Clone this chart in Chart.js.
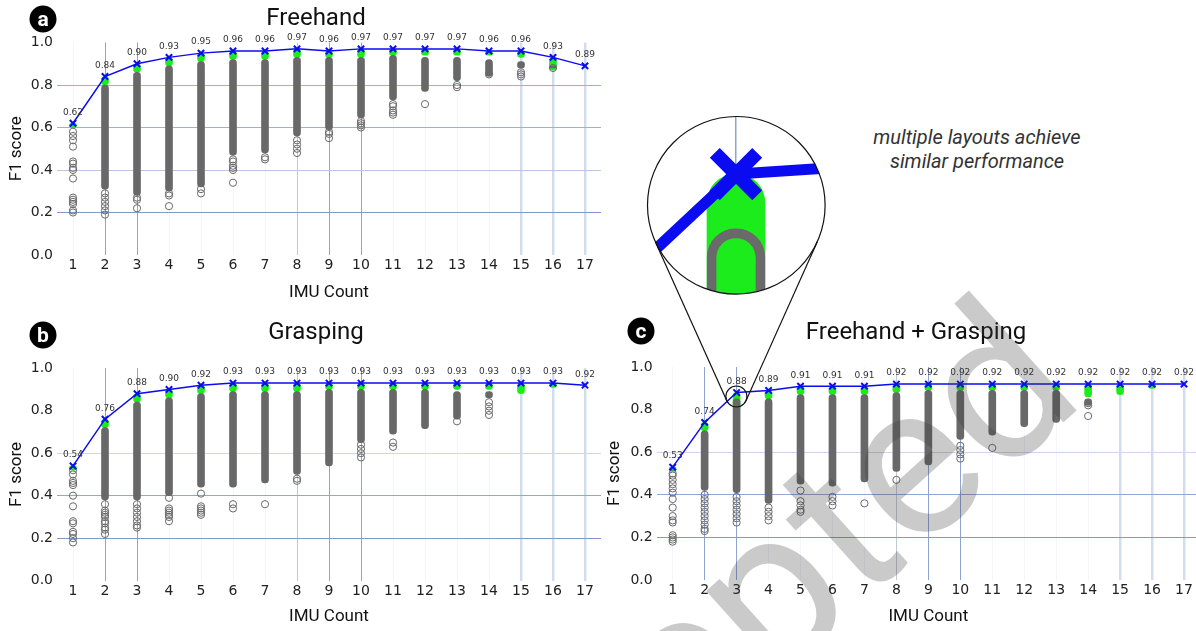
<!DOCTYPE html>
<html>
<head>
<meta charset="utf-8">
<script src="https://cdn.jsdelivr.net/npm/chart.js@4.4.1/dist/chart.umd.min.js"></script>
<style>
  html, body { margin: 0; padding: 0; background: #fff; }
  body { width: 1196px; height: 631px; overflow: hidden; position: relative; }
  canvas { position: absolute; }
  .title { position: absolute; font-family: Roboto, sans-serif; font-size: 24px; color: #111; transform: translate(-50%, -50%); white-space: nowrap; }
  .badge { position: absolute; width: 27px; height: 27px; border-radius: 50%; background: #000; color: #fff;
           font: bold 21px Roboto, sans-serif; text-align: center; line-height: 26px; transform: translate(-50%, -50%); }
  #note { position: absolute; left: 857px; top: 125px; width: 240px; text-align: center; font: italic 20px Roboto, sans-serif; color: #333; line-height: 24px; }
  #zoomBox { position: absolute; left: 647px; top: 116px; width: 178px; height: 178px; border-radius: 50%; overflow: hidden; }
  #zoomBox canvas { left: 0; top: 0; }
  svg { position: absolute; left: 0; top: 0; }
</style>
</head>
<body>
<canvas id="chartA" width="601" height="305" style="left:0;top:0"></canvas>
<canvas id="chartB" width="601" height="305" style="left:0;top:326px"></canvas>
<canvas id="chartC" width="600" height="305" style="left:600px;top:326px"></canvas>
<div id="zoomBox"><canvas id="chartZoom" width="178" height="178"></canvas></div>

<div class="badge" style="left:43px;top:19px">a</div>
<div class="title" style="left:316px;top:17px">Freehand</div>
<div class="badge" style="left:43px;top:335px">b</div>
<div class="title" style="left:316px;top:331px">Grasping</div>
<div class="badge" style="left:641px;top:331px">c</div>
<div class="title" style="left:916px;top:331px">Freehand + Grasping</div>
<div id="note">multiple layouts achieve<br>similar performance</div>

<svg width="1196" height="631">
  <circle cx="736.3" cy="205.3" r="88.8" fill="none" stroke="#111" stroke-width="1.2"/>
  <circle cx="736.4" cy="396.5" r="10.5" fill="none" stroke="#111" stroke-width="1.2"/>
  <line x1="655.3" y1="241.7" x2="726.8" y2="400.8" stroke="#111" stroke-width="1.2"/>
  <line x1="817.3" y1="241.7" x2="746.0" y2="400.8" stroke="#111" stroke-width="1.2"/>
  <text x="1088" y="400" text-anchor="end" transform="rotate(-42 1088 400)" font-family="Roboto, sans-serif"
        font-size="215" fill="rgba(60,60,60,0.27)">Accepted</text>
</svg>

<script>
const imuCounts = [1, 2, 3, 4, 5, 6, 7, 8, 9, 10, 11, 12, 13, 14, 15, 16, 17];

// Freehand
const freeBest     = [0.62, 0.84, 0.90, 0.93, 0.95, 0.96, 0.96, 0.97, 0.96, 0.97, 0.97, 0.97, 0.97, 0.96, 0.96, 0.93, 0.89];
const freeGreenLow = [0.60, 0.80, 0.86, 0.89, 0.91, 0.92, 0.92, 0.93, 0.93, 0.93, 0.94, 0.94, 0.94, 0.94, 0.93, 0.87, null];
const freeGreyTop  = [null, 0.80, 0.86, 0.89, 0.91, 0.92, 0.92, 0.93, 0.93, 0.93, 0.94, 0.93, 0.93, 0.92, 0.91, 0.89, null];
const freeGreyLow  = [null, 0.31, 0.28, 0.30, 0.32, 0.47, 0.48, 0.56, 0.59, 0.645, 0.73, 0.77, 0.82, 0.84, 0.88, 0.88, null];
const freeOutliers = [
  [0.58, 0.56, 0.54, 0.51, 0.44, 0.43, 0.41, 0.40, 0.36, 0.27, 0.26, 0.25, 0.24, 0.21, 0.20],
  [0.29, 0.27, 0.25, 0.23, 0.21, 0.19],
  [0.27, 0.26, 0.22],
  [0.29, 0.28, 0.23],
  [0.31, 0.29],
  [0.45, 0.44, 0.42, 0.41, 0.40, 0.34],
  [0.46, 0.45],
  [0.54, 0.52, 0.50, 0.48],
  [0.58, 0.57, 0.55],
  [0.63, 0.62, 0.61, 0.60],
  [0.71, 0.70, 0.68, 0.67, 0.66],
  [0.71],
  [0.80, 0.79],
  [0.85],
  [0.86, 0.85, 0.84],
  [0.88],
  []
];

// Grasping
const graspBest     = [0.54, 0.76, 0.88, 0.90, 0.92, 0.93, 0.93, 0.93, 0.93, 0.93, 0.93, 0.93, 0.93, 0.93, 0.93, 0.93, 0.92];
const graspGreenLow = [0.52, 0.72, 0.84, 0.86, 0.88, 0.89, 0.89, 0.89, 0.90, 0.90, 0.90, 0.90, 0.90, 0.90, 0.88, 0.91, null];
const graspGreyTop  = [null, 0.72, 0.84, 0.86, 0.88, 0.89, 0.89, 0.89, 0.90, 0.90, 0.90, 0.90, 0.89, 0.89, null, null, null];
const graspGreyLow  = [null, 0.38, 0.38, 0.40, 0.44, 0.44, 0.46, 0.50, 0.54, 0.65, 0.69, 0.715, 0.76, 0.86, null, null, null];
const graspOutliers = [
  [0.52, 0.50, 0.47, 0.46, 0.45, 0.40, 0.35, 0.28, 0.27, 0.23, 0.22, 0.20, 0.18],
  [0.36, 0.33, 0.32, 0.31, 0.30, 0.28, 0.27, 0.25, 0.24, 0.22],
  [0.36, 0.34, 0.32, 0.30, 0.28, 0.26, 0.25],
  [0.39, 0.34, 0.33, 0.32, 0.31, 0.30, 0.28],
  [0.41, 0.35, 0.34, 0.33, 0.32, 0.31],
  [0.36, 0.34],
  [0.36],
  [0.48, 0.47],
  [],
  [0.64, 0.62, 0.60, 0.58],
  [0.65, 0.63],
  [],
  [0.75],
  [0.84, 0.82, 0.80, 0.78],
  [],
  [],
  []
];

// Freehand + Grasping
const bothBest     = [0.53, 0.74, 0.88, 0.89, 0.91, 0.91, 0.91, 0.92, 0.92, 0.92, 0.92, 0.92, 0.92, 0.92, 0.92, 0.92, 0.92];
const bothGreenLow = [0.51, 0.70, 0.80, 0.85, 0.87, 0.87, 0.87, 0.88, 0.89, 0.89, 0.89, 0.89, 0.89, 0.86, 0.87, 0.90, null];
const bothGreyTop  = [null, 0.70, 0.85, 0.85, 0.87, 0.87, 0.87, 0.88, 0.89, 0.89, 0.89, 0.89, 0.89, 0.85, null, null, null];
const bothGreyLow  = [null, 0.42, 0.41, 0.36, 0.45, 0.44, 0.46, 0.51, 0.54, 0.66, 0.68, 0.72, 0.74, 0.82, null, null, null];
const bothOutliers = [
  [0.50, 0.49, 0.47, 0.45, 0.43, 0.41, 0.38, 0.34, 0.30, 0.28, 0.27, 0.21, 0.20, 0.19, 0.18],
  [0.40, 0.38, 0.36, 0.34, 0.32, 0.30, 0.28, 0.26, 0.24, 0.23],
  [0.39, 0.37, 0.35, 0.33, 0.31, 0.29, 0.27],
  [0.34, 0.32, 0.30, 0.28],
  [0.42, 0.37, 0.35, 0.33, 0.32],
  [0.39, 0.37, 0.35],
  [0.36],
  [0.47],
  [],
  [0.63, 0.61, 0.59, 0.57],
  [0.62],
  [],
  [],
  [0.83, 0.82, 0.77],
  [],
  [],
  []
];

// vertical grid line colours per IMU count (only some are drawn in the original)
const BLUE = '#8ea3cf', PALE = '#d3dcef', FAINT = 'rgba(220,226,240,0.35)', GREY = '#c4c8d0';
const vGridColor = [FAINT, BLUE, BLUE, FAINT, FAINT, FAINT, FAINT, GREY, BLUE, BLUE, FAINT, FAINT, FAINT, FAINT, PALE, PALE, PALE];
const vGridWidth = [1, 1, 1, 1, 1, 1, 1, 1, 1, 1, 1, 1, 1, 1, 2.5, 2.5, 2.5];

const valueLabels = {
  id: 'valueLabels',
  afterDatasetsDraw(chart) {
    const ctx = chart.ctx;
    const ds = chart.data.datasets[0];
    ctx.save();
    ctx.font = '9px "DejaVu Sans"';
    ctx.fillStyle = '#333';
    ctx.textAlign = 'center';
    ctx.textBaseline = 'middle';
    chart.getDatasetMeta(0).data.forEach((pt, i) => {
      ctx.fillText(ds.data[i].y.toFixed(2), pt.x, pt.y - 11);
    });
    ctx.restore();
  }
};

function buildDatasets(best, greenLow, greyTop, greyLow, outliers, s) {
  const line = [], green = [], grey = [], dots = [];
  imuCounts.forEach((x, i) => {
    line.push({ x, y: best[i] });
    if (greenLow[i] != null) green.push({ x, y: [greenLow[i], best[i]] });
    if (greyLow[i] != null) grey.push({ x, y: [greyLow[i], greyTop[i]] });
    outliers[i].forEach(v => dots.push({ x, y: v }));
  });
  return [
    { type: 'line', data: line, borderColor: '#0b0bf2', borderWidth: s.line, tension: 0,
      pointStyle: 'crossRot', pointRadius: s.mark, pointBorderWidth: s.markW,
      pointBorderColor: '#0b0bf2', pointBackgroundColor: '#0b0bf2', order: 0 },
    { type: 'line', data: dots, showLine: false, pointRadius: s.dot, pointBorderWidth: 1,
      pointBorderColor: '#6a6a6a', pointBackgroundColor: 'rgba(0,0,0,0)', order: 1 },
    { type: 'bar', data: grey, backgroundColor: s.greyFill, borderColor: '#6a6a6a', borderWidth: s.greyBorder,
      barThickness: s.bar, borderRadius: s.bar / 2, borderSkipped: false, grouped: false, order: 2 },
    { type: 'bar', data: green, backgroundColor: '#1cec1c', barThickness: s.bar,
      borderRadius: s.bar / 2, borderSkipped: false, grouped: false, order: 3 }
  ];
}

const mainStyle = { line: 1.5, mark: 4.5, markW: 2, bar: 7, dot: 3.6, greyFill: '#686868', greyBorder: 0 };

function makePanel(id, data, hGrid, geom) {
  return new Chart(document.getElementById(id), {
    type: 'bar',
    data: { datasets: buildDatasets(...data, mainStyle) },
    options: {
      responsive: false,
      animation: false,
      events: [],
      layout: { autoPadding: false, padding: { top: geom.top, left: 0, right: 0, bottom: 0 } },
      plugins: { legend: { display: false }, tooltip: { enabled: false } },
      scales: {
        x: {
          type: 'linear', min: 0.5, max: 17.5, offset: false,
          afterBuildTicks: sc => { sc.ticks = imuCounts.map(v => ({ value: v })); },
          afterFit: sc => { sc.height = geom.xh; },
          border: { display: false },
          grid: { offset: false, drawTicks: false,
                  color: c => vGridColor[c.index] || 'rgba(0,0,0,0)',
                  lineWidth: c => vGridWidth[c.index] || 1 },
          ticks: { padding: 2, color: '#222', font: { family: 'DejaVu Sans', size: 14 } },
          title: { display: true, text: 'IMU Count', color: '#111',
                   font: { family: 'Roboto', size: 17 }, padding: { top: 0, bottom: geom.xtb } }
        },
        y: {
          min: 0, max: 1,
          ticks: { stepSize: 0.2, padding: 4, color: '#222', font: { family: 'DejaVu Sans', size: 14 },
                   callback: v => v.toFixed(1) },
          afterFit: sc => { sc.width = geom.yw; },
          border: { display: false },
          grid: { drawTicks: false,
                  color: c => hGrid[Math.round(c.tick.value * 5)] || 'rgba(0,0,0,0)' },
          title: { display: true, text: 'F1 score', color: '#111',
                   font: { family: 'Roboto', size: 17 }, padding: { top: geom.ytp, bottom: 0 } }
        }
      }
    },
    plugins: [valueLabels]
  });
}

const NONE = 'rgba(0,0,0,0)';
makePanel('chartA', [freeBest, freeGreenLow, freeGreyTop, freeGreyLow, freeOutliers],
  [NONE, '#7f99cc', '#b9c7e5', '#9bb0da', '#9bb0da', NONE],
  { top: 42.5, xh: 50, xtb: 2, yw: 57, ytp: 7 });
makePanel('chartB', [graspBest, graspGreenLow, graspGreyTop, graspGreyLow, graspOutliers],
  [NONE, '#7f99cc', '#90a6d4', '#ccd7ee', NONE, NONE],
  { top: 42.2, xh: 50.3, xtb: 3.8, yw: 57, ytp: 7 });
makePanel('chartC', [bothBest, bothGreenLow, bothGreyTop, bothGreyLow, bothOutliers],
  [NONE, '#7f99cc', '#90a6d4', '#ccd7ee', NONE, NONE],
  { top: 41, xh: 51, xtb: 3.8, yw: 56.7, ytp: 5 });

// magnified view of panel c around 3 IMUs
const zoomStyle = { line: 11, mark: 30, markW: 14, bar: 58, dot: 30, greyFill: 'rgba(0,0,0,0)', greyBorder: 9 };
new Chart(document.getElementById('chartZoom'), {
  type: 'bar',
  data: { datasets: buildDatasets(bothBest, bothGreenLow, bothGreyTop, bothGreyLow, bothOutliers, zoomStyle) },
  options: {
    responsive: false,
    animation: false,
    events: [],
    layout: { autoPadding: false, padding: 0 },
    plugins: { legend: { display: false }, tooltip: { enabled: false } },
    scales: {
      x: {
        type: 'linear', min: 2.6725, max: 3.3275, offset: false,
        afterBuildTicks: sc => { sc.ticks = [{ value: 3 }]; },
        afterFit: sc => { sc.height = 0; },
        border: { display: false },
        grid: { offset: false, drawTicks: false, color: BLUE, lineWidth: 1.5 },
        ticks: { display: false }
      },
      y: { display: false, min: 0.814, max: 0.912 }
    }
  }
});
</script>
</body>
</html>
